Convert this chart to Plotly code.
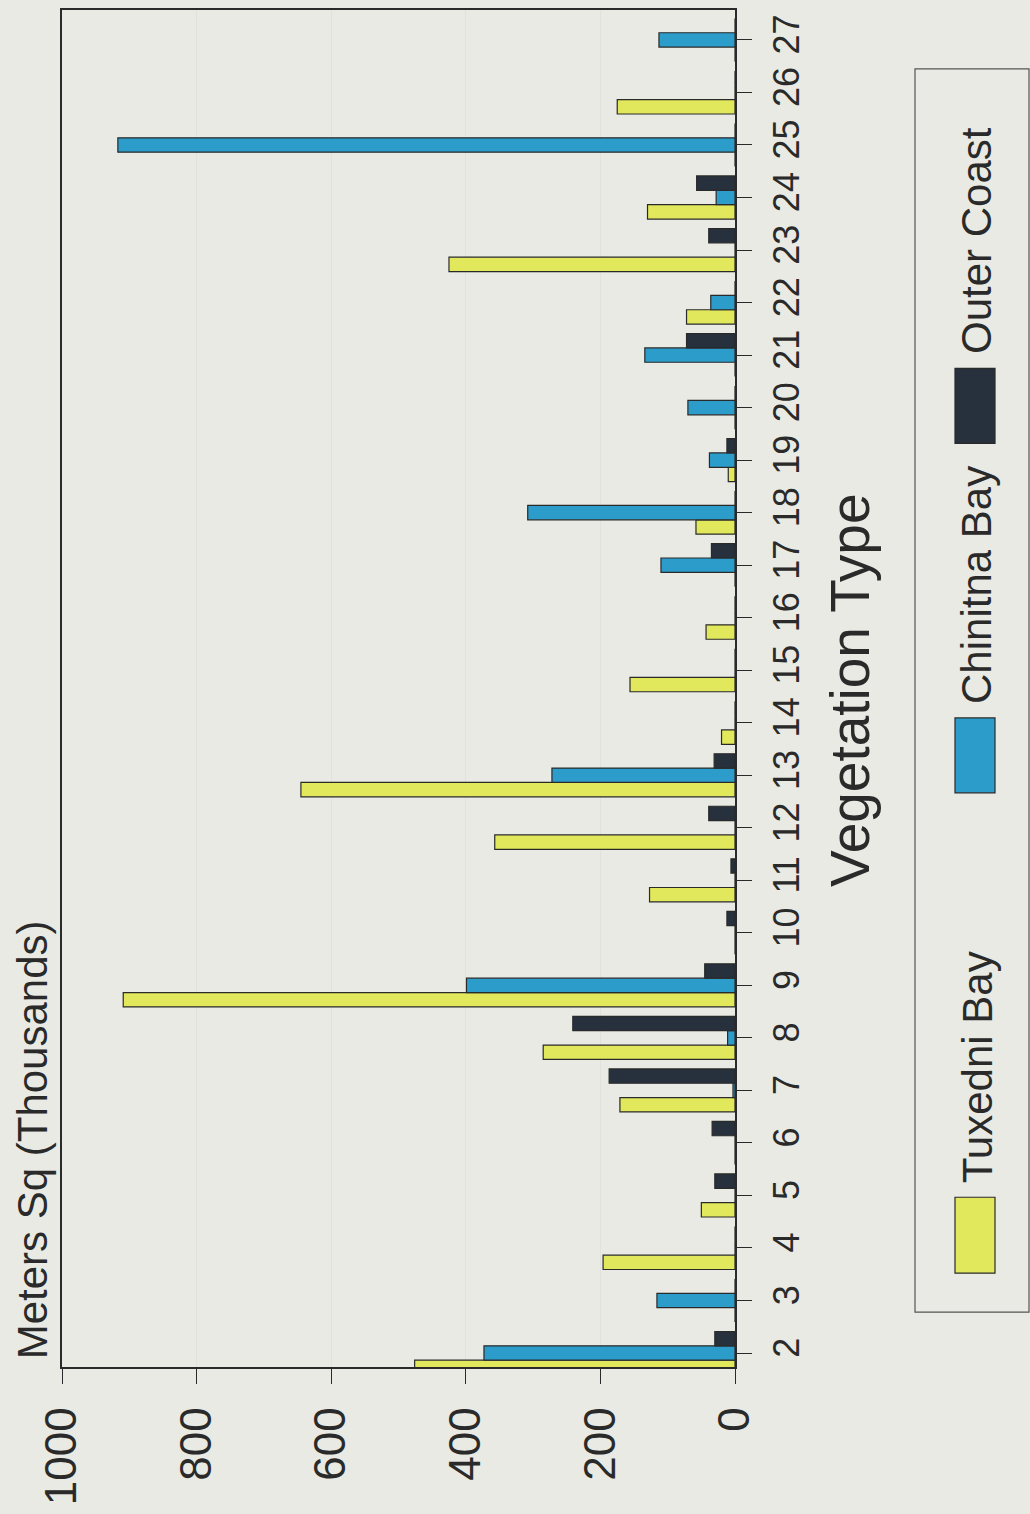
import plotly.graph_objects as go

# Vegetation type codes and area (thousands of square metres) per site
vegetation_types = list(range(2, 28))
tuxedni_bay = [476, 0, 196, 50, 0, 171, 285, 909, 0, 127, 357, 645, 20, 156,
               43, 0, 58, 10, 0, 0, 72, 425, 130, 0, 175, 0]
chinitna_bay = [373, 116, 0, 0, 0, 3, 11, 399, 0, 0, 0, 272, 0, 0,
                0, 110, 308, 38, 70, 134, 36, 0, 28, 917, 0, 113]
outer_coast = [30, 0, 0, 30, 34, 187, 241, 45, 12, 6, 39, 31, 0, 0,
               0, 35, 0, 12, 0, 72, 0, 39, 57, 0, 0, 0]

series_names = ["Tuxedni Bay", "Chinitna Bay", "Outer Coast"]
series_colors = ["#e2e85c", "#2c9ccb", "#27303d"]
value_ticks = [0, 200, 400, 600, 800, 1000]

W, H = 1030, 1514
L, R, T, B = 62, 295, 8, 147
PLOT_W, PLOT_H = W - L - R, H - T - B
FONT = "Liberation Sans, Arial, sans-serif"
BG = "#e9eae4"
INK = "#2a2a2a"


def px_x(p):
    return (p - L) / PLOT_W


def px_y(p):
    return (H - B - p) / PLOT_H


fig = go.Figure()
for name, vals, col in zip(series_names, [tuxedni_bay, chinitna_bay, outer_coast], series_colors):
    fig.add_trace(go.Bar(
        y=vegetation_types, x=vals, name=name, orientation="h",
        marker=dict(color=col, line=dict(color=INK, width=1.2)),
        showlegend=False,
    ))

fig.update_layout(
    width=W, height=H,
    margin=dict(l=L, r=R, t=T, b=B, pad=0),
    paper_bgcolor=BG, plot_bgcolor=BG,
    barmode="group", bargap=0.18, bargroupgap=0,
    font=dict(family=FONT, color=INK),
)

fig.update_xaxes(
    range=[1000, 0], tickvals=value_ticks, ticktext=[str(v) for v in value_ticks],
    tickangle=-90, tickfont=dict(size=44, family=FONT, color=INK),
    ticks="outside", ticklen=15, tickcolor=INK, ticklabelstandoff=6,
    showline=True, linecolor=INK, linewidth=1.5, mirror=True,
    showgrid=True, gridcolor="#e1e2dc", gridwidth=1, zeroline=False,
)
fig.update_yaxes(
    range=[1.734, 27.57], tickvals=vegetation_types,
    ticktext=[str(v) for v in vegetation_types], side="right",
    tickangle=-90, tickfont=dict(size=36, family=FONT, color=INK),
    ticks="outside", ticklen=15, tickcolor=INK, ticklabelstandoff=4,
    showline=True, linecolor=INK, linewidth=1.5, mirror=True,
    showgrid=False, zeroline=False,
)

annotations = [
    dict(text="Meters Sq (Thousands)", x=px_x(32), y=px_y(1140),
         textangle=-90, font=dict(size=42, family=FONT, color=INK)),
    dict(text="Vegetation Type", x=px_x(850), y=px_y(689),
         textangle=-90, font=dict(size=55, family=FONT, color=INK)),
]

# Legend drawn as a rotated box with swatches and labels
swatches = [(1197, 1273), (717, 792), (367, 442)]
shapes = [dict(type="rect", xref="paper", yref="paper",
               x0=px_x(915), x1=px_x(1029), y0=px_y(1312), y1=px_y(67),
               line=dict(color="#555555", width=1.2), fillcolor=BG, layer="below")]
for (top, bot), name, col in zip(swatches, series_names, series_colors):
    shapes.append(dict(type="rect", xref="paper", yref="paper",
                       x0=px_x(955), x1=px_x(995), y0=px_y(bot), y1=px_y(top),
                       line=dict(color=INK, width=1.2), fillcolor=col))
    annotations.append(dict(text=name, x=px_x(977), y=px_y(top - 12),
                            yanchor="bottom", textangle=-90,
                            font=dict(size=42, family=FONT, color=INK)))

for a in annotations:
    a.setdefault("xref", "paper")
    a.setdefault("yref", "paper")
    a.setdefault("xanchor", "center")
    a.setdefault("yanchor", "middle")
    a.setdefault("showarrow", False)
fig.update_layout(annotations=annotations, shapes=shapes)

fig.write_html("out.html")
